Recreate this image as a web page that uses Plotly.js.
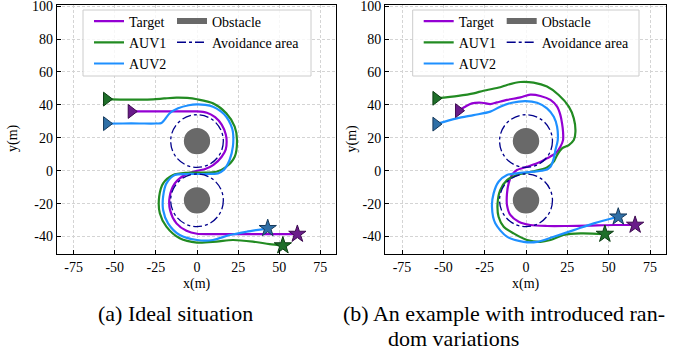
<!DOCTYPE html>
<html><head><meta charset="utf-8">
<script src="https://cdn.plot.ly/plotly-3.0.1.min.js"></script>
<style>html,body{margin:0;padding:0;background:#fff}#chart{width:683px;height:351px}</style>
</head><body><div id="chart"></div>
<script>
// ---- tick labels ----
const xTicks = [-75, -50, -25, 0, 25, 50, 75];
const xTickText = ['-75', '-50', '-25', '0', '25', '50', '75'];
const yTicks = [-40, -20, 0, 20, 40, 60, 80, 100];
const yTickText = ['-40', '-20', '0', '20', '40', '60', '80', '100'];
const seriesNames = ['Target', 'AUV1', 'AUV2'];
const areaNames = ['Obstacle', 'Avoidance area'];

// ---- obstacles ----
const obstacleX = [0, 0];
const obstacleY = [18, -18];
const obstacleR = 8;
const avoidR = 16;

// ---- (a) ideal situation ----
const aTargetX = [-40,-30,-20,-10,0,6,11,15,17.5,18,17.5,15,10,5,0,-7.5,-13.5,-16.6,-16.4,-12.5,-6.4,0,10,20,30,40,50,61];
const aTargetY = [36,36,36,36,36,35.2,32.5,28,22,18,13,8.5,3.5,1,0,-2.6,-7.7,-15.8,-23.9,-32,-36.5,-38.3,-38.5,-38.5,-38.5,-38.5,-38.5,-38.5];
const aAuv1X = [-55,-45,-35,-26.7,-20,-12.5,-6,0,9.7,17.8,22.9,24.3,22.9,17.8,11.8,3,-6.4,-14.5,-20.6,-23,-22.6,-18.6,-10.5,0,11.8,21.8,34,44.1,52.2];
const aAuv1Y = [43.5,43.2,43.2,43.4,43.9,44.4,44.2,43.4,41,34.9,26.8,18.7,8.5,2.4,-0.6,-1.2,-1.3,-2.6,-7.7,-15.8,-25.9,-34,-41.1,-43.7,-43.1,-42.1,-43.1,-44.6,-45.5];
const aAuv2X = [-55,-45,-35,-25,-21.6,-16.6,-11.5,-5,0,5,9.7,14.5,17.8,20.5,21.8,21.8,19.8,16.2,12.7,5,-6.4,-13.5,-18.6,-20.6,-20.6,-17.6,-10.5,0,9.7,19.8,30,43];
const aAuv2Y = [28.6,28.7,28.7,28.7,29,34.9,37.9,39.8,40.3,40,38.9,36,32.8,28,23.7,14.6,6.5,0.4,-1.6,-2,-2,-2.6,-7.7,-15.8,-23.9,-32,-39.1,-42.1,-42.1,-39.1,-37.1,-35];

// ---- (b) with random variations ----
const bTargetX = [-40.8,-36.8,-32.7,-26.7,-21.6,-17.6,-11.5,-3.4,2.6,8.7,14.8,18.8,20.8,21.8,22.4,22.4,20.8,17.8,12.7,6.7,0.6,-5.5,-8.5,-10.5,-11.5,-11.5,-9.5,-4.4,2.6,12.7,24.9,37,53.2,66];
const bTargetY = [36.5,38.9,40.9,41.3,40.5,41.5,43,44.6,46.2,45.4,43,38.9,33.8,28.8,23.7,18.6,14.6,10.5,7.5,4.5,2.4,0.4,-2.6,-7.7,-13.8,-20.9,-26.9,-31,-33,-33.6,-33.6,-33.4,-33,-33];
const bAuv1X = [-54.5,-41,-31.7,-25.7,-15.6,-11.5,-3.4,4.6,12.7,19.8,25.9,28.9,29.9,28.9,25.9,21.8,18.8,16.8,12.7,4,-5.5,-11.5,-15.6,-17.2,-16.6,-13.5,-7.5,0.6,8.7,14.8,22.8,33,47.7];
const bAuv1Y = [44,45.5,47,48.6,50.7,52.1,53.9,53.5,51.1,46,38.9,31.8,23.7,18.6,15.6,13.6,9.5,5.5,2,-0.5,-2.6,-5.7,-11.8,-19.9,-28,-34,-38.1,-42.1,-43.2,-42.1,-39.1,-38.1,-38.5];
const bAuv2X = [-54.5,-41.8,-31.7,-21.6,-15.6,-8.5,-0.4,6.7,12.7,16.8,18.8,19.2,17.8,16.8,14.8,11.7,4.6,-5.5,-11.5,-16.6,-19.6,-20.6,-18.6,-11.5,-1.4,6.7,16.8,28.9,41,55.8];
const bAuv2Y = [28.3,31.8,33.8,35.9,38.9,41.3,42.3,41.3,37.9,32.8,26.7,18.6,12.6,7.5,2.4,0.4,-0.6,-1.6,-2.6,-6.7,-13.8,-21.9,-32,-40.1,-43.2,-43.2,-40.1,-36.1,-32,-28];

// ---- styles ----
const lineColors = ['#9400D3', '#228B22', '#1E90FF'];
const markFill = ['#6a1b8a', '#1f6f2a', '#2f6fa6'];
const markEdge = ['#3d0a50', '#0b3d12', '#163a5c'];
const FONT = '"Liberation Serif", "Times New Roman", serif';
const OBST_COLOR = '#696969';
const AVOID_COLOR = '#00008B';

const panels = [
  {xa: 'x', ya: 'y', legA: 'legend', legB: 'legend2',
   xs: [aTargetX, aAuv1X, aAuv2X], ys: [aTargetY, aAuv1Y, aAuv2Y]},
  {xa: 'x2', ya: 'y2', legA: 'legend3', legB: 'legend4',
   xs: [bTargetX, bAuv1X, bAuv2X], ys: [bTargetY, bAuv1Y, bAuv2Y]}
];

const traces = [];
const shapes = [];
panels.forEach(p => {
  for (let i = 0; i < 3; i++) {
    const X = p.xs[i], Y = p.ys[i];
    traces.push({type: 'scatter', mode: 'lines', x: X, y: Y, xaxis: p.xa, yaxis: p.ya,
      name: seriesNames[i], legend: p.legA, line: {color: lineColors[i], width: 2.2, shape: 'spline', smoothing: 0.8},
      hoverinfo: 'skip'});
  }
  for (let i = 0; i < 3; i++) {
    const X = p.xs[i], Y = p.ys[i];
    traces.push({type: 'scatter', mode: 'markers', x: [X[0]], y: [Y[0]], xaxis: p.xa, yaxis: p.ya,
      showlegend: false, marker: {symbol: 'triangle-right', size: 12, color: markFill[i], line: {color: markEdge[i], width: 1}}});
    traces.push({type: 'scatter', mode: 'markers', x: [X[X.length - 1]], y: [Y[Y.length - 1]], xaxis: p.xa, yaxis: p.ya,
      showlegend: false, marker: {symbol: 'star', size: 13, color: markFill[i], line: {color: markEdge[i], width: 1}}});
  }
  // legend entries for the obstacle / avoidance shapes (no marks drawn)
  traces.push({type: 'scatter', mode: 'none', x: [null], y: [null], xaxis: p.xa, yaxis: p.ya,
    name: areaNames[0], legend: p.legB, fill: 'toself', fillcolor: OBST_COLOR});
  traces.push({type: 'scatter', mode: 'lines', x: [null], y: [null], xaxis: p.xa, yaxis: p.ya,
    name: areaNames[1], legend: p.legB, line: {color: AVOID_COLOR, width: 1.5, dash: 'dashdot'}});

  for (let k = 0; k < obstacleX.length; k++) {
    shapes.push({type: 'circle', xref: p.xa, yref: p.ya, layer: 'above',
      x0: obstacleX[k] - obstacleR, x1: obstacleX[k] + obstacleR, y0: obstacleY[k] - obstacleR, y1: obstacleY[k] + obstacleR,
      fillcolor: OBST_COLOR, line: {width: 0}});
    shapes.push({type: 'circle', xref: p.xa, yref: p.ya, layer: 'above',
      x0: obstacleX[k] - avoidR, x1: obstacleX[k] + avoidR, y0: obstacleY[k] - avoidR, y1: obstacleY[k] + avoidR,
      line: {color: AVOID_COLOR, width: 1.3, dash: 'dashdot'}});
  }
});

// legend frames
const W = 683, H = 351;
[[83, 311], [412.7, 639]].forEach(b => {
  shapes.push({type: 'rect', xref: 'paper', yref: 'paper', layer: 'above',
    x0: b[0] / W, x1: b[1] / W, y0: 1 - 76 / H, y1: 1 - 10 / H,
    fillcolor: 'rgba(255,255,255,0.8)', line: {color: '#cccccc', width: 1}});
});

function axisCommon() {
  return {ticks: 'inside', ticklen: 4, tickcolor: '#000', tickwidth: 1,
    showline: true, linecolor: '#000', linewidth: 1, mirror: true,
    showgrid: true, gridcolor: '#d4d4d4', gridwidth: 1, griddash: '3px,2px', zeroline: false,
    ticklabeloverflow: 'allow',
    tickfont: {family: FONT, size: 14, color: '#000'}};
}
function xAxis(dom, anchor) {
  return Object.assign(axisCommon(), {domain: dom, anchor: anchor, range: [-85.3, 84.5],
    tickvals: xTicks, ticktext: xTickText});
}
function yAxis(anchor) {
  return Object.assign(axisCommon(), {domain: [1 - 254.3 / H, 1 - 4.5 / H], anchor: anchor, range: [-50.8, 101],
    tickvals: yTicks, ticktext: yTickText});
}
function leg(xpx) {
  return {x: xpx / W, y: 1 - 5.5 / H, xanchor: 'left', yanchor: 'top', bgcolor: 'rgba(0,0,0,0)',
    borderwidth: 0, font: {family: FONT, size: 14, color: '#000'}, orientation: 'v', tracegroupgap: 0};
}
function txt(text, xpx, ypx, size, anchor, angle) {
  return {xref: 'paper', yref: 'paper', x: xpx / W, y: 1 - ypx / H, xanchor: anchor, yanchor: 'middle',
    showarrow: false, text: text, textangle: angle || 0, font: {family: FONT, size: size, color: '#000'}};
}

const layout = {
  width: W, height: H, margin: {l: 0, r: 0, t: 0, b: 0},
  paper_bgcolor: '#fff', plot_bgcolor: '#fff',
  font: {family: FONT, size: 14, color: '#000'},
  xaxis: xAxis([56.7 / W, 336 / W], 'y'),
  yaxis: yAxis('x'),
  xaxis2: xAxis([385 / W, 665.7 / W], 'y2'),
  yaxis2: yAxis('x2'),
  legend: leg(89), legend2: leg(172), legend3: leg(418.7), legend4: leg(501.7),
  shapes: shapes,
  annotations: [
    txt('x(m)', 197.3, 283.5, 14, 'center'),
    txt('x(m)', 525.7, 283.5, 14, 'center'),
    txt('y(m)', 13, 138, 14, 'center', -90),
    txt('y(m)', 351.5, 138, 14, 'center', -90),
    txt('(a) Ideal situation', 175, 313, 22, 'center'),
    txt('(b) An example with introduced ran-', 341, 313, 22, 'left'),
    txt('dom variations', 386, 338, 22, 'left')
  ],
  showlegend: true
};
Plotly.newPlot('chart', traces, layout, {staticPlot: true, displayModeBar: false});
</script></body></html>
